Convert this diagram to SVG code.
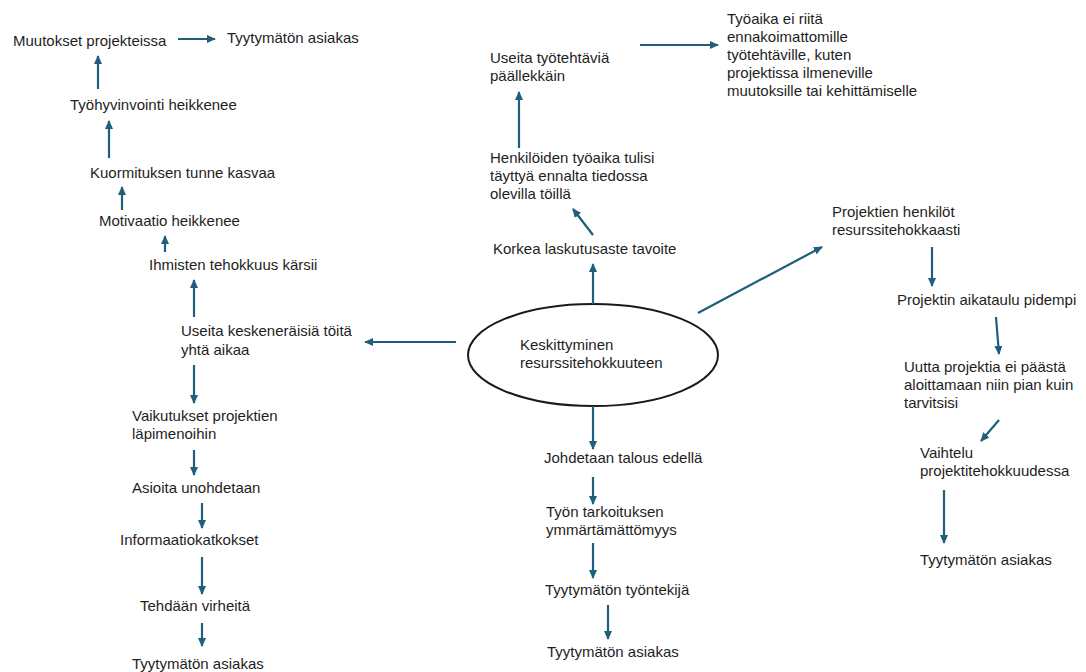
<svg xmlns="http://www.w3.org/2000/svg" width="1086" height="672" viewBox="0 0 1086 672">
<style>
text{font-family:"Liberation Sans",Arial,sans-serif;font-size:15px;fill:#1e1e1e}
.c line{stroke:#1f5f7c;stroke-width:2.2;marker-end:url(#ah)}
</style>
<defs>
<marker id="ah" viewBox="0 0 10 10" refX="9" refY="5" markerWidth="9" markerHeight="9" markerUnits="userSpaceOnUse" orient="auto">
<path d="M0,0.5 L10,5 L0,9.5 z" fill="#1f5f7c"/>
</marker>
</defs>
<rect width="1086" height="672" fill="#fff"/>
<g id="n-center"><ellipse cx="593" cy="355" rx="125" ry="51" fill="none" stroke="#1a1a1a" stroke-width="2"/>
<text x="520" y="350">Keskittyminen</text><text x="520" y="368">resurssitehokkuuteen</text></g>
<g id="n-muutokset"><text x="13" y="46">Muutokset projekteissa</text></g>
<g id="n-tyyt1"><text x="227" y="43">Tyytymätön asiakas</text></g>
<g id="n-tyohyv"><text x="70" y="110">Työhyvinvointi heikkenee</text></g>
<g id="n-kuorm"><text x="90" y="178">Kuormituksen tunne kasvaa</text></g>
<g id="n-motiv"><text x="99" y="226">Motivaatio heikkenee</text></g>
<g id="n-ihmis"><text x="149" y="270">Ihmisten tehokkuus kärsii</text></g>
<g id="n-useita"><text x="181" y="336">Useita keskeneräisiä töitä</text><text x="181" y="355">yhtä aikaa</text></g>
<g id="n-vaik"><text x="132" y="421">Vaikutukset projektien</text><text x="132" y="439">läpimenoihin</text></g>
<g id="n-asioita"><text x="132" y="493">Asioita unohdetaan</text></g>
<g id="n-info"><text x="120" y="545">Informaatiokatkokset</text></g>
<g id="n-tehdaan"><text x="140" y="611">Tehdään virheitä</text></g>
<g id="n-tyyt2"><text x="132" y="669">Tyytymätön asiakas</text></g>
<g id="n-korkea"><text x="493" y="254">Korkea laskutusaste tavoite</text></g>
<g id="n-henk"><text x="490" y="163">Henkilöiden työaika tulisi</text><text x="490" y="181">täyttyä ennalta tiedossa</text><text x="490" y="199">olevilla töillä</text></g>
<g id="n-useitatt"><text x="490" y="63">Useita työtehtäviä</text><text x="490" y="81">päällekkäin</text></g>
<g id="n-tyoaika"><text x="727" y="24">Työaika ei riitä</text><text x="727" y="42">ennakoimattomille</text><text x="727" y="60">työtehtäville, kuten</text><text x="727" y="78">projektissa ilmeneville</text><text x="727" y="96">muutoksille tai kehittämiselle</text></g>
<g id="n-projhenk"><text x="832" y="217">Projektien henkilöt</text><text x="832" y="235">resurssitehokkaasti</text></g>
<g id="n-aikat"><text x="897" y="305">Projektin aikataulu pidempi</text></g>
<g id="n-uutta"><text x="904" y="372">Uutta projektia ei päästä</text><text x="904" y="390">aloittamaan niin pian kuin</text><text x="904" y="408">tarvitsisi</text></g>
<g id="n-vaiht"><text x="920" y="458">Vaihtelu</text><text x="920" y="476">projektitehokkuudessa</text></g>
<g id="n-tyyt3"><text x="920" y="565">Tyytymätön asiakas</text></g>
<g id="n-johd"><text x="544" y="463">Johdetaan talous edellä</text></g>
<g id="n-tyon"><text x="546" y="517">Työn tarkoituksen</text><text x="546" y="535">ymmärtämättömyys</text></g>
<g id="n-tyontek"><text x="545" y="595">Tyytymätön työntekijä</text></g>
<g id="n-tyyt4"><text x="547" y="657">Tyytymätön asiakas</text></g>
<g id="connectors" class="c">
<line x1="178" y1="39" x2="215" y2="39"/>
<line x1="98" y1="89" x2="98" y2="56"/>
<line x1="109" y1="158" x2="109" y2="121"/>
<line x1="122" y1="210" x2="122" y2="187"/>
<line x1="165" y1="252" x2="165" y2="236"/>
<line x1="194" y1="317" x2="194" y2="280"/>
<line x1="456" y1="342" x2="365" y2="342"/>
<line x1="194" y1="365" x2="194" y2="403"/>
<line x1="194" y1="450" x2="194" y2="475"/>
<line x1="202" y1="503" x2="202" y2="528"/>
<line x1="202" y1="557" x2="202" y2="594"/>
<line x1="202" y1="623" x2="202" y2="646"/>
<line x1="593" y1="304" x2="593" y2="264"/>
<line x1="593" y1="235" x2="573" y2="209"/>
<line x1="519" y1="148" x2="519" y2="92"/>
<line x1="640" y1="45" x2="718" y2="45"/>
<line x1="698" y1="313" x2="822" y2="247"/>
<line x1="593" y1="406" x2="593" y2="449"/>
<line x1="593" y1="477" x2="593" y2="504"/>
<line x1="593" y1="543" x2="593" y2="578"/>
<line x1="608" y1="605" x2="608" y2="639"/>
<line x1="932" y1="247" x2="932" y2="286"/>
<line x1="996" y1="317" x2="999" y2="354"/>
<line x1="999" y1="420" x2="981" y2="441"/>
<line x1="944" y1="490" x2="944" y2="543"/>
</g>
</svg>
